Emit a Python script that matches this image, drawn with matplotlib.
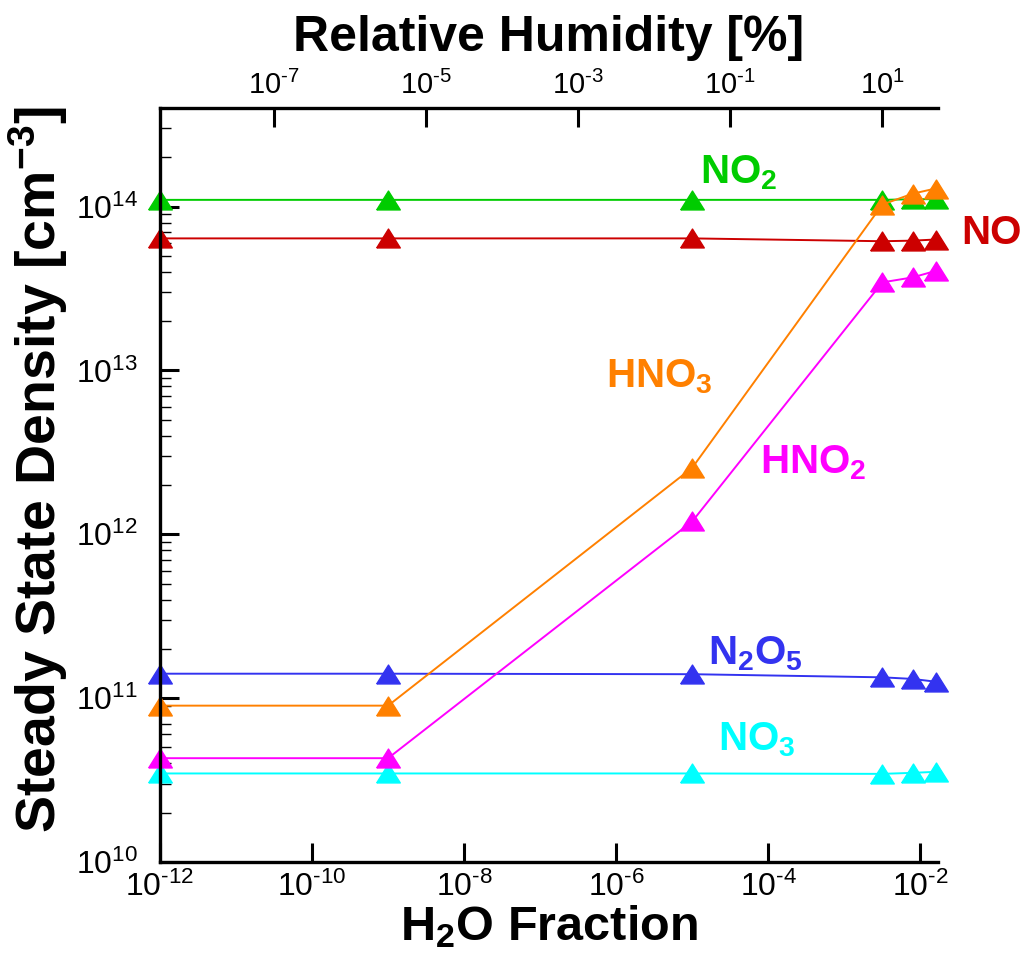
import matplotlib
matplotlib.use("Agg")
import matplotlib.pyplot as plt
from matplotlib.ticker import LogLocator, NullLocator, NullFormatter, FuncFormatter
import math

plt.rcParams['font.family'] = ['Liberation Sans', 'DejaVu Sans']
plt.rcParams['mathtext.fontset'] = 'custom'
plt.rcParams['mathtext.rm'] = 'Liberation Sans'
plt.rcParams['mathtext.it'] = 'Liberation Sans:italic'
plt.rcParams['mathtext.bf'] = 'Liberation Sans:bold'
plt.rcParams['axes.unicode_minus'] = False

# H2O mole fraction of each run
h2o_frac = [1e-12, 1e-9, 1e-5, 3.16e-3, 7.9e-3, 1.58e-2]
# fraction -> relative humidity [%]
RH_FACTOR = 3162.0

# steady state densities [cm^-3]
no2 = [1.10e14, 1.10e14, 1.10e14, 1.10e14, 1.11e14, 1.11e14]
no = [6.4e13, 6.4e13, 6.4e13, 6.15e13, 6.2e13, 6.3e13]
hno3 = [9.0e10, 9.0e10, 2.55e12, 1.03e14, 1.2e14, 1.29e14]
hno2 = [4.3e10, 4.3e10, 1.2e12, 3.45e13, 3.7e13, 4.05e13]
n2o5 = [1.41e11, 1.41e11, 1.40e11, 1.34e11, 1.31e11, 1.26e11]
no3 = [3.47e10, 3.47e10, 3.47e10, 3.45e10, 3.5e10, 3.55e10]

series = [
    ('NO$_\\mathbf{2}$', no2, '#00CC00', (-4.904, 14.14)),
    ('NO', no, '#CC0000', (-1.461, 13.774)),
    ('N$_\\mathbf{2}$O$_\\mathbf{5}$', n2o5, '#3333F0', (-4.799, 11.207)),
    ('NO$_\\mathbf{3}$', no3, '#00FFFF', (-4.668, 10.683)),
    ('HNO$_\\mathbf{2}$', hno2, '#FF00FF', (-4.116, 12.372)),
    ('HNO$_\\mathbf{3}$', hno3, '#FF8000', (-6.139, 12.896)),
]


def pow10(v, pos):
    n = int(round(math.log10(v)))
    if n < 0:
        return '$10^{\u2010%d}$' % (-n)
    return '$10^{%d}$' % n


# flattened triangle marker
tri = [(-1, -0.8), (1, -0.8), (0, 0.8), (-1, -0.8)]

fig = plt.figure(figsize=(10.26, 9.73), dpi=100)
ax = fig.add_axes([0.1559, 0.1141, 0.7583, 0.7749])

for name, vals, col, (lx, ly) in series:
    ax.plot(h2o_frac, vals, '-', color=col, lw=1.4, marker=tri, ms=17,
            mec=col, mfc=col, clip_on=False)
    ax.text(10**lx, 10**ly, name, color=col, fontsize=29, fontweight='bold',
            ha='left', va='baseline')

ax.set_xscale('log')
ax.set_yscale('log')
ax.set_xlim(1e-12, 1.7e-2)
ax.set_ylim(1e10, 4e14)

ax.xaxis.set_major_locator(LogLocator(base=100.0, numticks=20))
ax.xaxis.set_minor_locator(NullLocator())
ax.xaxis.set_major_formatter(FuncFormatter(pow10))
ax.yaxis.set_major_locator(LogLocator(base=10.0, numticks=20))
ax.yaxis.set_minor_locator(LogLocator(base=10.0, subs=range(2, 10), numticks=20))
ax.yaxis.set_minor_formatter(NullFormatter())
ax.yaxis.set_major_formatter(FuncFormatter(pow10))

ax.spines['right'].set_visible(False)
ax.spines['top'].set_visible(False)
for s in ['left', 'bottom']:
    ax.spines[s].set_linewidth(2.4)

ax.tick_params(axis='x', which='major', direction='in', length=14, width=2.2,
               labelsize=23, pad=7)
ax.tick_params(axis='y', which='major', direction='in', length=14, width=2.2,
               labelsize=23, pad=16)
ax.tick_params(axis='y', which='minor', direction='in', length=8, width=1.0)

ax.set_xlabel('H$_\\mathbf{2}$O Fraction', fontsize=35, fontweight='bold', labelpad=0)
ax.set_ylabel('Steady State Density [cm$^\\mathbf{-3}$]', fontsize=40,
              fontweight='bold')
ax.yaxis.set_label_coords(-0.115, 0.52)

top = ax.secondary_xaxis('top', functions=(lambda x: x * RH_FACTOR,
                                           lambda r: r / RH_FACTOR))
top.set_xticks([1e-7, 1e-5, 1e-3, 1e-1, 1e1])
top.xaxis.set_minor_locator(NullLocator())
top.xaxis.set_major_formatter(FuncFormatter(pow10))
top.spines['top'].set_linewidth(2.4)
top.tick_params(axis='x', which='major', direction='in', length=14, width=2.2,
                labelsize=21, pad=6)
top.set_xlabel('Relative Humidity [%]', fontsize=36, fontweight='bold', labelpad=14)

fig.savefig('out.png', dpi=100)
